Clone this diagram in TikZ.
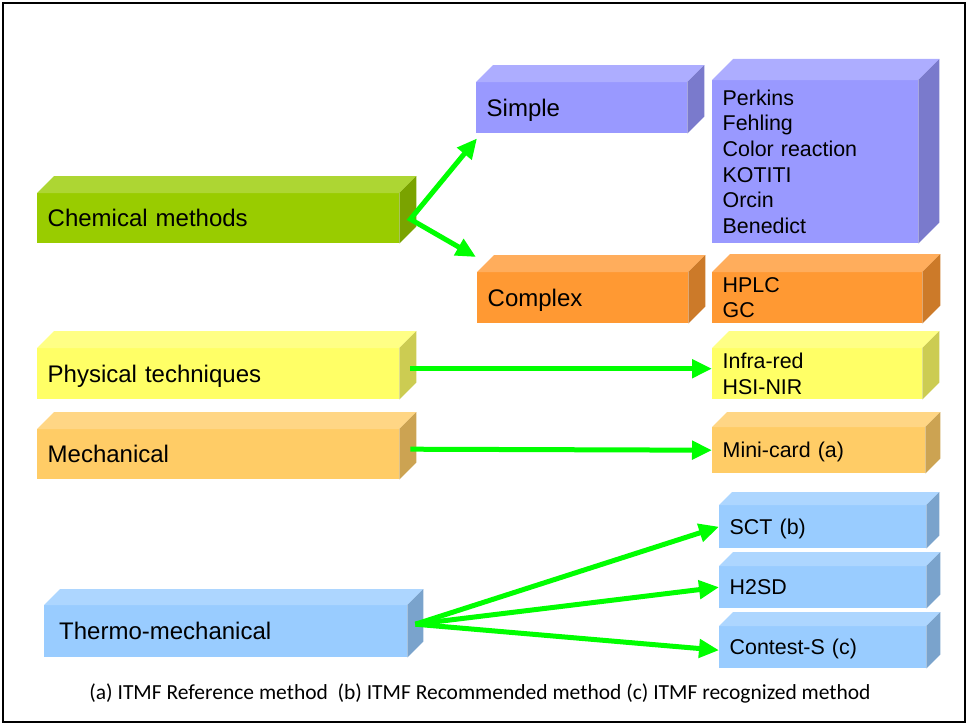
\documentclass[tikz,border=0pt]{standalone}
\usepackage{fontspec}
\setmainfont{Liberation Sans}
\newfontfamily\notefont{Carlito}
\usetikzlibrary{arrows.meta}
\definecolor{chemgreen}{RGB}{153,204,0}
\definecolor{simpleblue}{RGB}{153,153,255}
\definecolor{complexorange}{RGB}{255,153,51}
\definecolor{physyellow}{RGB}{255,255,102}
\definecolor{mechorange}{RGB}{255,204,102}
\definecolor{thermoblue}{RGB}{153,204,255}
\definecolor{flowgreen}{RGB}{0,255,0}
\newcommand\labfont{\fontsize{24}{28}\selectfont}
\newcommand\itemfont{\fontsize{21.4}{25.6}\selectfont}
\newcommand\cubefaces[3]{%
  \fill[#2!80!white] (#1.north west) -- ++(#3,-#3) -- ([shift={(#3,-#3)}]#1.north east) -- (#1.north east) -- cycle;
  \fill[#2!80!black] (#1.north east) -- ++(#3,-#3) -- ([shift={(#3,-#3)}]#1.south east) -- (#1.south east) -- cycle;
}
\begin{document}
\begin{tikzpicture}[x=1pt,y=-1pt,
    face/.style 2 args={anchor=north west, inner xsep=10.5pt, inner ysep=0pt, align=left, text width=#1, minimum height=#2},
    bigface/.style={face={341pt}{#1}, font=\labfont, text height=17pt, text depth=0pt},
    midface/.style={face={190pt}{51pt}, font=\labfont, text height=17pt, text depth=0pt},
    itemface/.style 2 args={face={#1}{#2}, font=\itemfont},
    oneline/.style={text height=15.3pt, text depth=0pt},
    flow/.style={draw=flowgreen, line width=5pt, >={Triangle[length=20pt,width=18pt]}}]
  \useasboundingbox (0,0) rectangle (968,725);
  \node[bigface=50pt, fill=chemgreen] (chem) at (37,193) {Chemical methods};
  \node[bigface=51pt, fill=physyellow] (phys) at (37,348) {Physical techniques};
  \node[bigface=50pt, fill=mechorange] (mech) at (37,429) {Mechanical};
  \node[bigface=52pt, fill=thermoblue, inner xsep=15pt, text width=333pt] (thermo) at (44,605) {Thermo-mechanical};
  \node[midface, fill=simpleblue] (simple) at (476,82) {Simple};
  \node[midface, fill=complexorange] (complex) at (477,272) {Complex};
  \node[itemface={185pt}{163pt}, fill=simpleblue] (perkins) at (712,80) {Perkins\\Fehling\\Color reaction\\KOTITI\\Orcin\\Benedict};
  \node[itemface={189pt}{51pt}, fill=complexorange] (hplc) at (712,272) {HPLC\\GC};
  \node[itemface={189pt}{51pt}, fill=physyellow] (infra) at (712,348) {Infra-red\\HSI-NIR};
  \node[itemface={192pt}{46pt}, oneline, fill=mechorange] (mini) at (712,427) {Mini-card (a)};
  \node[itemface={186pt}{43pt}, oneline, fill=thermoblue] (sct) at (719,505) {SCT (b)};
  \node[itemface={186pt}{42pt}, oneline, fill=thermoblue] (h2sd) at (719,566) {H2SD};
  \node[itemface={186pt}{42pt}, oneline, fill=thermoblue] (contest) at (719,626) {Contest-S (c)};
  \cubefaces{chem}{chemgreen}{17}
  \cubefaces{phys}{physyellow}{17}
  \cubefaces{mech}{mechorange}{17}
  \cubefaces{thermo}{thermoblue}{16}
  \cubefaces{simple}{simpleblue}{17}
  \cubefaces{complex}{complexorange}{17}
  \cubefaces{perkins}{simpleblue}{21}
  \cubefaces{hplc}{complexorange}{18}
  \cubefaces{infra}{physyellow}{17}
  \cubefaces{mini}{mechorange}{15}
  \cubefaces{sct}{thermoblue}{13}
  \cubefaces{h2sd}{thermoblue}{14}
  \cubefaces{contest}{thermoblue}{14}
  \draw[flow, <->, line join=miter] ([xshift=1pt,yshift=-5pt]simple.south west) -- ([xshift=11pt,yshift=-1pt]chem.east) -- ([xshift=-1pt,yshift=15pt]complex.north west);
  \draw[flow, ->] ([xshift=11pt,yshift=5pt]phys.east) -- ([yshift=5pt]infra.west);
  \draw[flow, ->] ([xshift=11pt,yshift=5pt]mech.east) -- (mini.west);
  \draw[flow, ->] ([xshift=8pt,yshift=7pt]thermo.east) -- (sct.west);
  \draw[flow, ->] ([xshift=8pt,yshift=7pt]thermo.east) -- (h2sd.west);
  \draw[flow, ->] ([xshift=8pt,yshift=7pt]thermo.east) -- ([yshift=-3pt]contest.west);
  \node[font=\notefont\fontsize{21.5}{25}\selectfont] (note) at (480,693) {(a) ITMF Reference method~ (b) ITMF Recommended method (c) ITMF recognized method};
  \draw[line width=1.5pt] (3,3) rectangle (965,722);
\end{tikzpicture}
\end{document}
